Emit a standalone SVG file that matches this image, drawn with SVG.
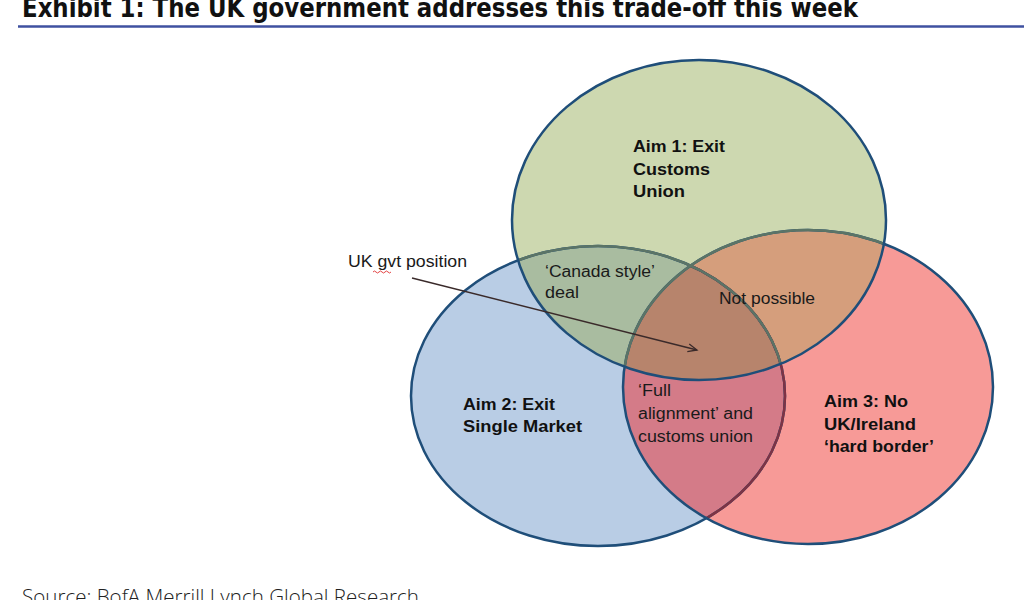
<svg xmlns="http://www.w3.org/2000/svg" width="1024" height="600" viewBox="0 0 1024 600">
<style>
.lbl{font-family:"Liberation Sans",Arial,sans-serif;font-size:16px;fill:#1a1a1a}
.aim{font-family:"Liberation Sans",Arial,sans-serif;font-size:17px;font-weight:bold;fill:#111}
.outline{fill:none;stroke:#1f4e79;stroke-width:2.5}
</style>
<defs>
<ellipse id="eG" cx="699" cy="220" rx="187" ry="160"/>
<ellipse id="eB" cx="598" cy="396" rx="187" ry="150"/>
<ellipse id="eR" cx="808" cy="387" rx="185" ry="157"/>
<clipPath id="cG"><use href="#eG"/></clipPath>
<clipPath id="cB"><use href="#eB"/></clipPath>
<clipPath id="cR"><use href="#eR"/></clipPath>
<marker id="arr" markerWidth="12" markerHeight="10" refX="10" refY="5" orient="auto" markerUnits="userSpaceOnUse">
<path d="M1,1 L10,5 L1,9" fill="none" stroke="#3a2a2a" stroke-width="1.3"/>
</marker>
</defs>
<rect width="1024" height="600" fill="#ffffff"/>
<g id="title">
<text x="22" y="17" font-family="'DejaVu Sans Condensed','DejaVu Sans',sans-serif" font-weight="bold" font-size="26" fill="#111" textLength="836" lengthAdjust="spacingAndGlyphs">Exhibit 1: The UK government addresses this trade-off this week</text>
<line x1="18" y1="26.5" x2="1024" y2="26.5" stroke="#3f51a0" stroke-width="2.5"/>
</g>
<g id="venn-fills">
<use href="#eB" fill="#b9cde5"/>
<use href="#eR" fill="#f79a97"/>
<g clip-path="url(#cB)"><use href="#eR" fill="#d47b88"/></g>
<use href="#eG" fill="#cdd8b0"/>
<g clip-path="url(#cB)"><use href="#eG" fill="#a9bca0"/></g>
<g clip-path="url(#cR)"><use href="#eG" fill="#d59e7c"/></g>
<g clip-path="url(#cR)"><g clip-path="url(#cB)"><use href="#eG" fill="#b7846c"/></g></g>
</g>
<g id="venn-outlines">
<use href="#eB" class="outline"/>
<g clip-path="url(#cR)"><use href="#eB" fill="none" stroke="#7d3345" stroke-width="2.5"/></g>
<use href="#eR" class="outline"/>
<g clip-path="url(#cG)"><use href="#eB" fill="none" stroke="#5b7466" stroke-width="2.5"/><use href="#eR" fill="none" stroke="#5b7466" stroke-width="2.5"/></g>
<use href="#eG" class="outline"/>
</g>
<g id="aim1">
<text class="aim" x="633" y="152" textLength="92" lengthAdjust="spacingAndGlyphs">Aim 1: Exit</text>
<text class="aim" x="633" y="175" textLength="77" lengthAdjust="spacingAndGlyphs">Customs</text>
<text class="aim" x="633" y="197" textLength="52" lengthAdjust="spacingAndGlyphs">Union</text>
</g>
<g id="aim2">
<text class="aim" x="463" y="410" textLength="92" lengthAdjust="spacingAndGlyphs">Aim 2: Exit</text>
<text class="aim" x="463" y="432" textLength="119" lengthAdjust="spacingAndGlyphs">Single Market</text>
</g>
<g id="aim3">
<text class="aim" x="824" y="407" textLength="84" lengthAdjust="spacingAndGlyphs">Aim 3: No</text>
<text class="aim" x="824" y="430" textLength="92" lengthAdjust="spacingAndGlyphs">UK/Ireland</text>
<text class="aim" x="824" y="452" textLength="110" lengthAdjust="spacingAndGlyphs">‘hard border’</text>
</g>
<g id="canada">
<text class="lbl" x="545" y="277" textLength="110" lengthAdjust="spacingAndGlyphs">‘Canada style’</text>
<text class="lbl" x="545" y="298" textLength="34" lengthAdjust="spacingAndGlyphs">deal</text>
</g>
<g id="notpossible">
<text class="lbl" x="719" y="304" textLength="96" lengthAdjust="spacingAndGlyphs">Not possible</text>
</g>
<g id="fullalign">
<text class="lbl" x="638" y="396" textLength="33" lengthAdjust="spacingAndGlyphs">‘Full</text>
<text class="lbl" x="638" y="419" textLength="115" lengthAdjust="spacingAndGlyphs">alignment’ and</text>
<text class="lbl" x="638" y="442" textLength="115" lengthAdjust="spacingAndGlyphs">customs union</text>
</g>
<g id="ukgvt">
<text class="lbl" x="348" y="267" textLength="119" lengthAdjust="spacingAndGlyphs">UK gvt position</text>
<path d="M373,272 q1.5,-2 3,0 t3,0 t3,0 t3,0 t3,0 t3,0" fill="none" stroke="#e03030" stroke-width="0.9"/>
</g>
<g id="connectors">
<line x1="412" y1="278" x2="697" y2="350" stroke="#3a2a2a" stroke-width="1.3" marker-end="url(#arr)"/>
</g>
<g id="source">
<text x="22" y="604" font-family="'Open Sans','Liberation Sans',sans-serif" font-weight="300" font-size="21" fill="#222" textLength="397" lengthAdjust="spacingAndGlyphs">Source: BofA Merrill Lynch Global Research</text>
</g>
</svg>
